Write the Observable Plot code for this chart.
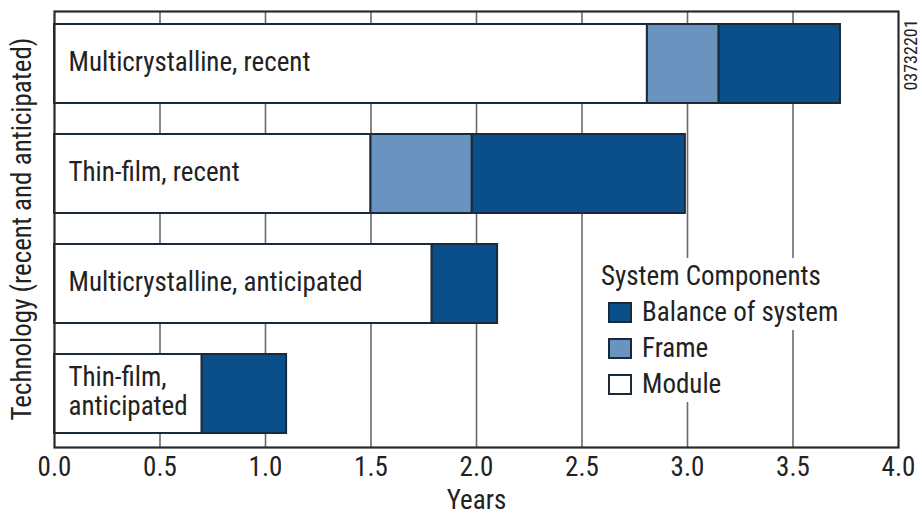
<!DOCTYPE html>
<html>
<head>
<meta charset="utf-8">
<script src="https://cdn.jsdelivr.net/npm/d3@7"></script>
<script src="https://cdn.jsdelivr.net/npm/@observablehq/plot@0.6"></script>
<style>
  html, body { margin: 0; padding: 0; background: #fff; }
  #wrap { position: relative; width: 922px; height: 516px; font-family: "Liberation Sans Narrow", "Roboto Condensed", "DejaVu Sans Condensed", sans-serif; color: #222; }
  #ylab { position: absolute; left: 22px; top: 229px; transform: translate(-50%, -50%) rotate(-90deg); white-space: nowrap; font-size: 27px; }
  #code { position: absolute; left: 911px; top: 55px; transform: translate(-50%, -50%) rotate(-90deg); white-space: nowrap; font-size: 18px; line-height: 18px; }
  #legend { position: absolute; left: 601px; top: 258px; font-size: 27px; line-height: 36px; }
  #legend .row { display: flex; align-items: center; }
  #legend .row span.t { background: #fff; }
  #legend .title { background: #fff; display: inline-block; }
  #legend .sw { width: 24px; height: 21px; border: 2px solid #1b2a3a; box-sizing: border-box; margin: 0 10px 0 7px; }
</style>
</head>
<body>
<div id="wrap">
  <div id="chart"></div>
  <div id="ylab">Technology (recent and anticipated)</div>
  <div id="code">03732201</div>
  <div id="legend"></div>
</div>
<script>
// Data
const categories = ["Multicrystalline, recent", "Thin-film, recent", "Multicrystalline, anticipated", "Thin-film, anticipated"];
const categoryLabels = ["Multicrystalline, recent", "Thin-film, recent", "Multicrystalline, anticipated", "Thin-film,\nanticipated"];
const components = ["Module", "Frame", "Balance of system"];
const moduleYears = [2.81, 1.50, 1.79, 0.70];
const frameYears = [0.34, 0.48, 0, 0];
const bosYears = [0.575, 1.01, 0.31, 0.40];
const xTicks = [0, 0.5, 1, 1.5, 2, 2.5, 3, 3.5, 4];
const colors = {"Module": "#ffffff", "Frame": "#6a93c0", "Balance of system": "#0b4f8a"};
const legendOrder = ["Balance of system", "Frame", "Module"];

const series = [moduleYears, frameYears, bosYears];
const rows = [];
categories.forEach((c, i) => {
  components.forEach((comp, j) => {
    if (series[j][i] > 0) rows.push({category: c, component: comp, years: series[j][i]});
  });
});
const labels = categories.map((c, i) => ({category: c, label: categoryLabels[i]}));

const chart = Plot.plot({
  width: 922,
  height: 516,
  marginLeft: 54,
  marginRight: 24,
  marginTop: 11,
  marginBottom: 69,
  style: {fontFamily: '"Liberation Sans Narrow", "Roboto Condensed", "DejaVu Sans Condensed", sans-serif', fontSize: "27px", color: "#222", background: "#fff"},
  x: {domain: [0, 4], ticks: xTicks},
  y: {domain: categories, paddingInner: 0.28, paddingOuter: 0.12, axis: null},
  color: {domain: components, range: components.map(c => colors[c])},
  marks: [
    Plot.gridX(xTicks.slice(1, -1), {stroke: "#6a6a6a", strokeOpacity: 1, strokeWidth: 1.6}),
    Plot.barX(rows, Plot.stackX({y: "category", x: "years", fill: "component", stroke: "#1b2a3a", strokeWidth: 2, inset: 0})),
    Plot.text(labels, {x: () => 0, y: "category", text: "label", textAnchor: "start", dx: 14, dy: -3, lineHeight: 1.1, fill: "#222", fontSize: 27}),
    Plot.frame({stroke: "#2a2a2a", strokeWidth: 2.2}),
    Plot.axisX({ticks: xTicks, tickFormat: d3.format(".1f"), tickSize: 0, tickPadding: 9, label: "Years", labelAnchor: "center", labelArrow: "none", labelOffset: 61, fontSize: 27})
  ]
});
document.getElementById("chart").appendChild(chart);

const lg = document.getElementById("legend");
const title = document.createElement("div");
title.innerHTML = '<span class="title">System Components</span>';
lg.appendChild(title);
legendOrder.forEach(k => {
  const r = document.createElement("div");
  r.className = "row";
  r.innerHTML = `<div class="sw" style="background:${colors[k]}"></div><span class="t">${k}</span>`;
  lg.appendChild(r);
});
</script>
</body>
</html>
